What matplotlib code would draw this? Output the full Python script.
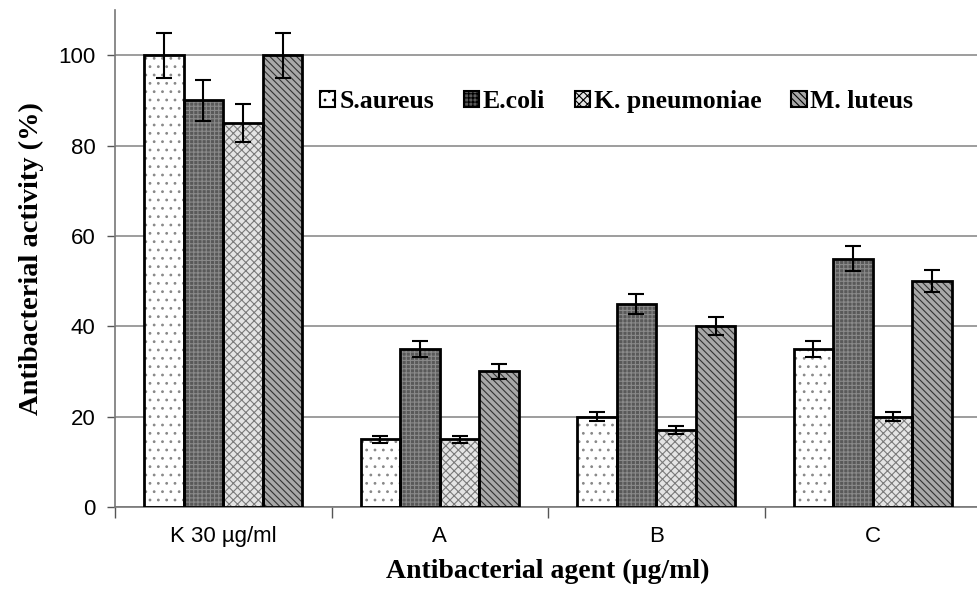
import matplotlib.pyplot as plt
import numpy as np
from matplotlib.patches import Patch

plt.rcParams['hatch.linewidth'] = 0.8

categories = ['K 30 µg/ml', 'A', 'B', 'C']
series = ['S.aureus', 'E.coli', 'K. pneumoniae', 'M. luteus']
values = [
    [100, 15, 20, 35],   # S.aureus
    [90, 35, 45, 55],    # E.coli
    [85, 15, 17, 20],    # K. pneumoniae
    [100, 30, 40, 50],   # M. luteus
]
errors = [
    [5.0, 0.8, 1.0, 1.8],
    [4.5, 1.7, 2.2, 2.8],
    [4.2, 0.8, 0.9, 1.0],
    [5.0, 1.6, 2.0, 2.4],
]

faces = ['white', '#595959', '#e4e4e4', '#a8a8a8']
hatch_cols = ['#888888', '#8a8a8a', '#7a7a7a', '#333333']
hatches = ['..', '++++', 'xxxx', '\\\\\\\\\\']

fig = plt.figure(figsize=(9.77, 5.90), dpi=100)
ax = fig.add_axes([115/977, 83/590, 866/977, 497/590])

x = np.arange(len(categories))
w = 0.183
for i in range(4):
    pos = x + (i - 1.5) * w
    ax.bar(pos, values[i], w, color=faces[i], hatch=hatches[i],
           edgecolor=hatch_cols[i], linewidth=0, zorder=2)
    ax.bar(pos, values[i], w, fill=False, edgecolor='black', linewidth=2, zorder=3)
    ax.errorbar(pos, values[i], yerr=errors[i], fmt='none', ecolor='black',
                elinewidth=1.5, capsize=6, capthick=1.5, zorder=4)

# legend proxies
handles = [Patch(facecolor=faces[i], hatch=hatches[i], edgecolor='black', linewidth=1.5)
           for i in range(4)]
ax.legend(handles, series, ncol=4, frameon=False, loc='upper left',
          bbox_to_anchor=(0.21, 0.885), handlelength=0.6, handleheight=0.6,
          handletextpad=0.15, columnspacing=1.15,
          prop={'family': 'Liberation Serif', 'weight': 'bold', 'size': 18.5})

ax.set_xlim(-0.5, 3.5)
ax.set_ylim(0, 110)
ax.set_yticks([0, 20, 40, 60, 80, 100])
ax.yaxis.grid(True, color='#8c8c8c', linewidth=1.2, zorder=0)
ax.set_axisbelow(True)
ax.set_xticks(x)
ax.set_xticklabels(categories, fontfamily='Liberation Sans', fontsize=16)
ax.set_xticks(np.arange(-0.5, 3.6, 1), minor=True)
ax.tick_params(axis='x', which='major', length=0, pad=14)
ax.tick_params(axis='x', which='minor', length=8, color='#555555', width=1)
ax.tick_params(axis='y', length=6, color='#555555', width=1, pad=8)
for lab in ax.get_yticklabels():
    lab.set_fontfamily('Liberation Sans')
    lab.set_fontsize(16)

for s in ['top', 'right']:
    ax.spines[s].set_visible(False)
for s in ['left', 'bottom']:
    ax.spines[s].set_color('#777777')
    ax.spines[s].set_linewidth(1.2)

ax.set_ylabel('Antibacterial activity (%)', fontfamily='Liberation Serif',
              fontweight='bold', fontsize=20.5, labelpad=10)
ax.set_xlabel('Antibacterial agent (µg/ml)', fontfamily='Liberation Serif',
              fontweight='bold', fontsize=20, labelpad=8)

fig.savefig('out.png', dpi=100)
